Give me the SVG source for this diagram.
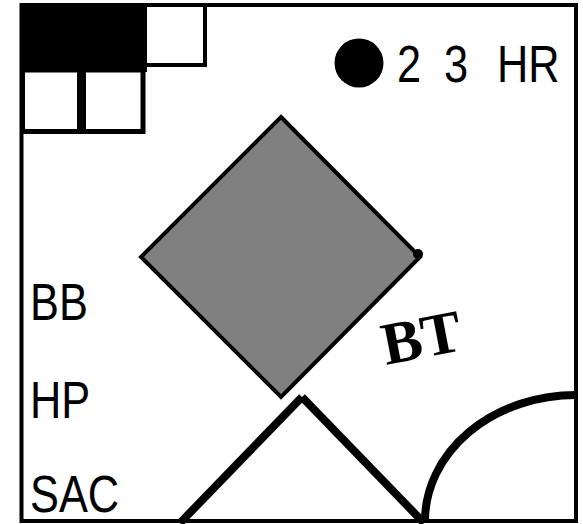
<svg xmlns="http://www.w3.org/2000/svg" width="583" height="524" viewBox="0 0 583 524">
<style>
.lbl{font-family:"Liberation Sans",Arial,sans-serif;font-size:51px;fill:#000}
.bt{font-family:"Liberation Serif","Times New Roman",serif;font-size:60px;font-weight:bold;fill:#000}
.box{fill:#fff;stroke:#000}
.thick{fill:none;stroke:#000;stroke-width:8}
</style>
<rect x="0" y="0" width="583" height="524" fill="#fff"/>
<g id="frame">
<rect x="21.5" y="5" width="554.5" height="516" fill="none" stroke="#000" stroke-width="4"/>
</g>
<g id="bases">
<rect x="20" y="3" width="127" height="69" fill="#000"/>
<rect class="box" x="145" y="5" width="60" height="60" stroke-width="4"/>
<rect class="box" x="22.5" y="70" width="57" height="61.5" stroke-width="5"/>
<rect class="box" x="83.5" y="70" width="59.5" height="61.5" stroke-width="5"/>
</g>
<g id="score">
<circle cx="359" cy="63" r="24.5" fill="#000"/>
<text class="lbl" transform="matrix(0.85 0 0 1 397 82)">2</text>
<text class="lbl" transform="matrix(0.85 0 0 1 444 82)">3</text>
<text class="lbl" transform="matrix(0.85 0 0 1 497 82)">HR</text>
</g>
<g id="diamond">
<polygon points="281,117 420,257 281,397 141,257" fill="#808080" stroke="#000" stroke-width="4" stroke-linejoin="miter"/>
<circle cx="418" cy="254" r="5" fill="#000"/>
</g>
<g id="labels">
<text class="lbl" transform="matrix(0.85 0 0 1 30 320)">BB</text>
<text class="lbl" transform="matrix(0.85 0 0 1 30 418)">HP</text>
<text class="lbl" transform="matrix(0.85 0 0 1 30 512)">SAC</text>
<text class="bt" transform="translate(386 365) rotate(-11)">BT</text>
</g>
<g id="connectors">
<line class="thick" x1="180" y1="523" x2="302" y2="397"/>
<line class="thick" x1="302" y1="397" x2="424" y2="523"/>
<path class="thick" d="M425 521 A151 126 0 0 1 576 395"/>
</g>
</svg>
